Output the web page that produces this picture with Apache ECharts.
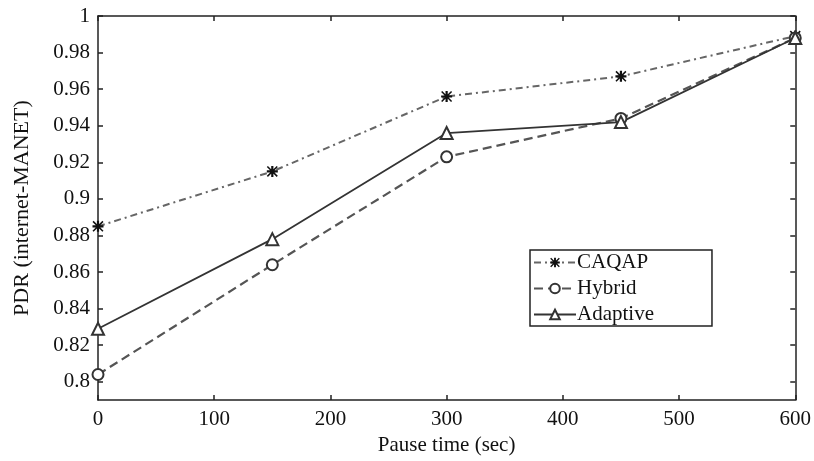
<!DOCTYPE html>
<html>
<head>
<meta charset="utf-8">
<script src="https://cdn.jsdelivr.net/npm/echarts@6/dist/echarts.min.js"></script>
<style>
html,body{margin:0;padding:0;background:#fff;}
#container{width:814px;height:461px;}
</style>
</head>
<body>
<div id="container"></div>
<script>
var pauseTime = [0, 150, 300, 450, 600];
var caqap = [0.885, 0.915, 0.956, 0.967, 0.989];
var hybrid = [0.804, 0.864, 0.923, 0.944, 0.988];
var adaptive = [0.829, 0.878, 0.936, 0.942, 0.988];
var yTicks = [0.8, 0.82, 0.84, 0.86, 0.88, 0.9, 0.92, 0.94, 0.96, 0.98, 1];

function pairs(ys) {
	var out = [];
	for (var i = 0; i < pauseTime.length; i++) out.push([pauseTime[i], ys[i]]);
	return out;
}

var font = '"Liberation Serif", "DejaVu Serif", serif';
var starPath = 'path://M0,4H10V6H0Z M4,0H6V10H4Z M1,0L10,9L9,10L0,1Z M9,0L10,1L1,10L0,9Z';

var myChart = echarts.init(document.getElementById('container'));

function xAxisDef(pos, showLabel) {
	return {
		type: 'value', position: pos, min: 0, max: 600, interval: 100,
		name: showLabel ? 'Pause time (sec)' : '',
		nameLocation: 'middle', nameGap: 33,
		nameTextStyle: {fontFamily: font, fontSize: 21, color: '#111'},
		axisLine: {show: true, onZero: false, lineStyle: {color: '#222', width: 1.5}},
		axisTick: {show: true, inside: true, length: 5, lineStyle: {color: '#222', width: 1.5}},
		axisLabel: {show: showLabel, fontFamily: font, fontSize: 21, color: '#111', margin: 9},
		splitLine: {show: false}
	};
}
function yAxisDef(pos, showLabel) {
	return {
		type: 'value', position: pos, min: 0.79, max: 1,
		name: showLabel ? 'PDR (internet-MANET)' : '',
		nameLocation: 'middle', nameGap: 65, nameRotate: 90,
		nameTextStyle: {fontFamily: font, fontSize: 22, color: '#111'},
		axisLine: {show: true, onZero: false, lineStyle: {color: '#222', width: 1.5}},
		axisTick: {show: true, inside: true, length: 5, customValues: yTicks, lineStyle: {color: '#222', width: 1.5}},
		axisLabel: {show: showLabel, customValues: yTicks, fontFamily: font, fontSize: 21, color: '#111', margin: 8},
		splitLine: {show: false}
	};
}

myChart.setOption({
	animation: false,
	grid: {left: 98, right: 16, top: 16, bottom: 60},
	legend: {
		orient: 'vertical', left: 530, top: 250,
		backgroundColor: '#fff',
		borderColor: '#222', borderWidth: 1.5, borderRadius: 0,
		padding: [2, 58, 1, 3],
		itemWidth: 42, itemHeight: 12, itemGap: 5,
		textStyle: {fontFamily: font, fontSize: 21, color: '#111', padding: [0, 0, 0, -4]},
		data: ['CAQAP', 'Hybrid', 'Adaptive']
	},
	xAxis: [xAxisDef('bottom', true), xAxisDef('top', false)],
	yAxis: [yAxisDef('left', true), yAxisDef('right', false)],
	series: [
		{
			name: 'CAQAP', type: 'line', data: pairs(caqap),
			symbol: starPath, symbolSize: 11,
			itemStyle: {color: '#111'},
			lineStyle: {color: '#666', width: 2, type: [7, 4, 2, 4]}
		},
		{
			name: 'Hybrid', type: 'line', data: pairs(hybrid),
			symbol: 'emptyCircle', symbolSize: 11,
			itemStyle: {color: '#333', borderWidth: 1.8},
			lineStyle: {color: '#555', width: 2.2, type: [9, 5]}
		},
		{
			name: 'Adaptive', type: 'line', data: pairs(adaptive),
			symbol: 'emptyTriangle', symbolSize: 12,
			itemStyle: {color: '#333', borderWidth: 1.8},
			lineStyle: {color: '#333', width: 1.8, type: 'solid'}
		}
	]
});
</script>
</body>
</html>
